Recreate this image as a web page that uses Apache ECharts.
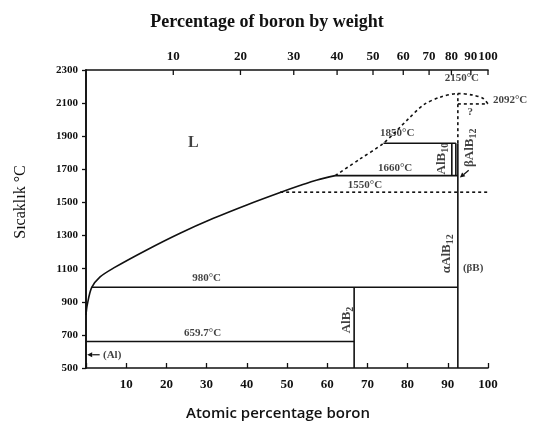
<!DOCTYPE html>
<html>
<head>
<meta charset="utf-8">
<script src="https://cdn.jsdelivr.net/npm/echarts@6/dist/echarts.min.js"></script>
<style>
  html, body { margin: 0; padding: 0; background: #fff; }
  #chart { width: 534px; height: 424px; }
</style>
</head>
<body>
<div id="chart"></div>
<script>
// axis ticks
const yTicks = [500, 2300, 200];           // min, max, step (temperature, °C)
const atTicks = [0, 100, 10];              // atomic % boron
const wtTicks = [10, 20, 30, 40, 50, 60, 70, 80, 90, 100]; // weight % boron (top axis)

// liquidus, solid part then the dashed part above the 1660 °C plateau
const liquidus = [[0, 820], [0.3, 880], [1.4, 985], [3.5, 1050], [6.8, 1103], [15.1, 1213],
  [23.4, 1314], [31.7, 1404], [40, 1485], [48.3, 1560], [53.2, 1602], [57.5, 1636], [62, 1662]];
const liquidusDashed = [[62, 1662], [68, 1760], [74, 1858], [80, 2000], [84, 2090], [88, 2135],
  [92.5, 2158], [96.3, 2148], [98.8, 2128], [100, 2095]];

// other phase boundaries
const solidLines = [
  [[1.4, 988], [92.5, 988]],     // 980 °C
  [[0, 660], [66.7, 660]],       // 659.7 °C
  [[66.7, 500], [66.7, 988]],    // AlB2
  [[62, 1662], [92.5, 1662]],    // 1660 °C
  [[74, 1858], [92, 1858]],      // 1850 °C
  [[91, 1662], [91, 1858]],      // AlB10
  [[92, 1662], [92, 1858]],
  [[92.5, 500], [92.5, 1858]]    // AlB12
];
const dashedLines = [
  [[48.3, 1562], [100, 1562]],   // 1550 °C
  [[92.5, 1858], [92.5, 2158]],
  [[92.5, 2095], [100, 2095]]    // 2092 °C
];
// arrows: from (x, T) to (x, T)
const arrows = [
  [3.4, 580, 0.3, 580],
  [95.2, 1694, 93, 1650]
];

// annotations: text, atomic %, temperature, rotation, size
const notes = [
  ['L', 26.7, 1861, 0, 16],
  ['2150°C', 93.5, 2250, 0, 11],
  ['2092°C', 105.5, 2120, 0, 11],
  ['1850°C', 77.4, 1918, 0, 11],
  ['1660°C', 76.9, 1708, 0, 11],
  ['1550°C', 69.4, 1606, 0, 11],
  ['980°C', 30, 1044, 0, 11],
  ['659.7°C', 29, 712, 0, 11],
  ['(Al)', 6.5, 580, 0, 11],
  ['?', 95.6, 2045, 0, 11],
  ['(βB)', 96.3, 1105, 0, 11],
  ['AlB{s|2}', 64.8, 790, 90, 13],
  ['AlB{s|10}', 88.4, 1765, 90, 13],
  ['βAlB{s|12}', 95.4, 1830, 90, 13],
  ['αAlB{s|12}', 89.6, 1190, 90, 13]
];

function wtToAt(w) {
  const b = w / 10.81, a = (100 - w) / 26.98;
  return 100 * b / (a + b);
}

const serif = '"Liberation Serif", "DejaVu Serif", serif';
const chart = echarts.init(document.getElementById('chart'));

const series = [];
series.push({
  type: 'line', data: liquidus, smooth: 0.3, symbol: 'none', silent: true,
  lineStyle: { color: '#111', width: 1.6 }
});
series.push({
  type: 'line', data: liquidusDashed, smooth: 0.3, symbol: 'none', silent: true,
  lineStyle: { color: '#111', width: 1.6, type: [3, 3] }
});
solidLines.forEach(d => series.push({
  type: 'line', data: d, symbol: 'none', silent: true,
  lineStyle: { color: '#111', width: 1.6 }
}));
dashedLines.forEach(d => series.push({
  type: 'line', data: d, symbol: 'none', silent: true,
  lineStyle: { color: '#111', width: 1.6, type: [3, 3] }
}));

// arrows
series.push({
  type: 'custom', silent: true, data: arrows,
  renderItem: function (params, api) {
    const a = api.coord([api.value(0), api.value(1)]);
    const b = api.coord([api.value(2), api.value(3)]);
    const ang = Math.atan2(b[1] - a[1], b[0] - a[0]);
    const L = 5, W = 2.5;
    const bx = b[0] - L * Math.cos(ang), by = b[1] - L * Math.sin(ang);
    return {
      type: 'group',
      children: [
        { type: 'line', shape: { x1: a[0], y1: a[1], x2: bx, y2: by },
          style: { stroke: '#111', lineWidth: 1.2 } },
        { type: 'polygon', shape: { points: [b,
            [bx + W * Math.sin(ang), by - W * Math.cos(ang)],
            [bx - W * Math.sin(ang), by + W * Math.cos(ang)]] },
          style: { fill: '#111' } }
      ]
    };
  }
});

// annotations
series.push({
  type: 'scatter', symbolSize: 0, silent: true, clip: false,
  data: notes.map(n => ({
    value: [n[1], n[2]],
    label: { formatter: n[0], rotate: n[3], fontSize: n[4] }
  })),
  label: {
    show: true, position: 'inside', color: '#111',
    fontFamily: serif, fontWeight: 'bold', fontSize: 11,
    rich: {
      s: { fontFamily: serif, fontWeight: 'bold', fontSize: 10, padding: [8, 0, 0, 0] }
    }
  }
});

// weight % ticks on the top border
series.push({
  type: 'custom', silent: true, clip: false,
  data: wtTicks.map(w => [wtToAt(w), w]),
  renderItem: function (params, api) {
    const p = api.coord([api.value(0), yTicks[1]]);
    return {
      type: 'group',
      children: [
        { type: 'line', shape: { x1: p[0], y1: p[1], x2: p[0], y2: p[1] + 5 },
          style: { stroke: '#111', lineWidth: 1.3 } },
        { type: 'text', x: p[0], y: p[1] - 7,
          style: { text: String(api.value(1)), fill: '#111', align: 'center', verticalAlign: 'bottom',
            font: 'bold 13px ' + serif } }
      ]
    };
  }
});

chart.setOption({
  animation: false,
  title: [{
    text: 'Percentage of boron by weight', left: 'center', top: 8,
    textStyle: { fontFamily: serif, fontWeight: 'bold', fontSize: 18, color: '#111' }
  }, {
    text: 'Atomic percentage boron', left: 181, top: 401,
    textStyle: { fontFamily: '"Open Sans", sans-serif', fontWeight: 600, fontSize: 15, color: '#111' }
  }],
  graphic: [{
    type: 'text', x: 21, y: 202, rotation: Math.PI / 2,
    style: { text: 'Sıcaklık °C', font: '16px ' + serif, fill: '#111',
      align: 'center', verticalAlign: 'middle' }
  }],
  grid: { left: 86, right: 46, top: 70, bottom: 56 },
  xAxis: [{
    type: 'value', min: atTicks[0], max: atTicks[1], interval: atTicks[2],
    axisLine: { lineStyle: { color: '#111', width: 1.6 } },
    axisTick: { inside: true, length: 5, lineStyle: { color: '#111', width: 1.3 } },
    axisLabel: { margin: 10, fontFamily: serif, fontWeight: 'bold', fontSize: 13, color: '#111',
      formatter: v => v === 0 ? '' : String(v) },
    splitLine: { show: false }
  }, {
    type: 'value', position: 'top', min: atTicks[0], max: atTicks[1],
    axisLine: { show: true, lineStyle: { color: '#111', width: 1.6 } },
    axisTick: { show: false }, axisLabel: { show: false }, splitLine: { show: false }
  }],
  yAxis: [{
    type: 'value', min: yTicks[0], max: yTicks[1], interval: yTicks[2],
    axisLine: { show: true, lineStyle: { color: '#111', width: 1.6 } },
    axisTick: { show: true, length: 4, lineStyle: { color: '#111', width: 1.3 } },
    axisLabel: { margin: 8, fontFamily: serif, fontWeight: 'bold', fontSize: 11, color: '#111',
      formatter: v => String(v) },
    splitLine: { show: false }
  }, {
    type: 'value', position: 'right', min: yTicks[0], max: yTicks[1],
    axisLine: { show: true, lineStyle: { color: '#111', width: 1.6 } },
    axisTick: { show: false }, axisLabel: { show: false }, splitLine: { show: false }
  }],
  series: series
});
</script>
</body>
</html>
